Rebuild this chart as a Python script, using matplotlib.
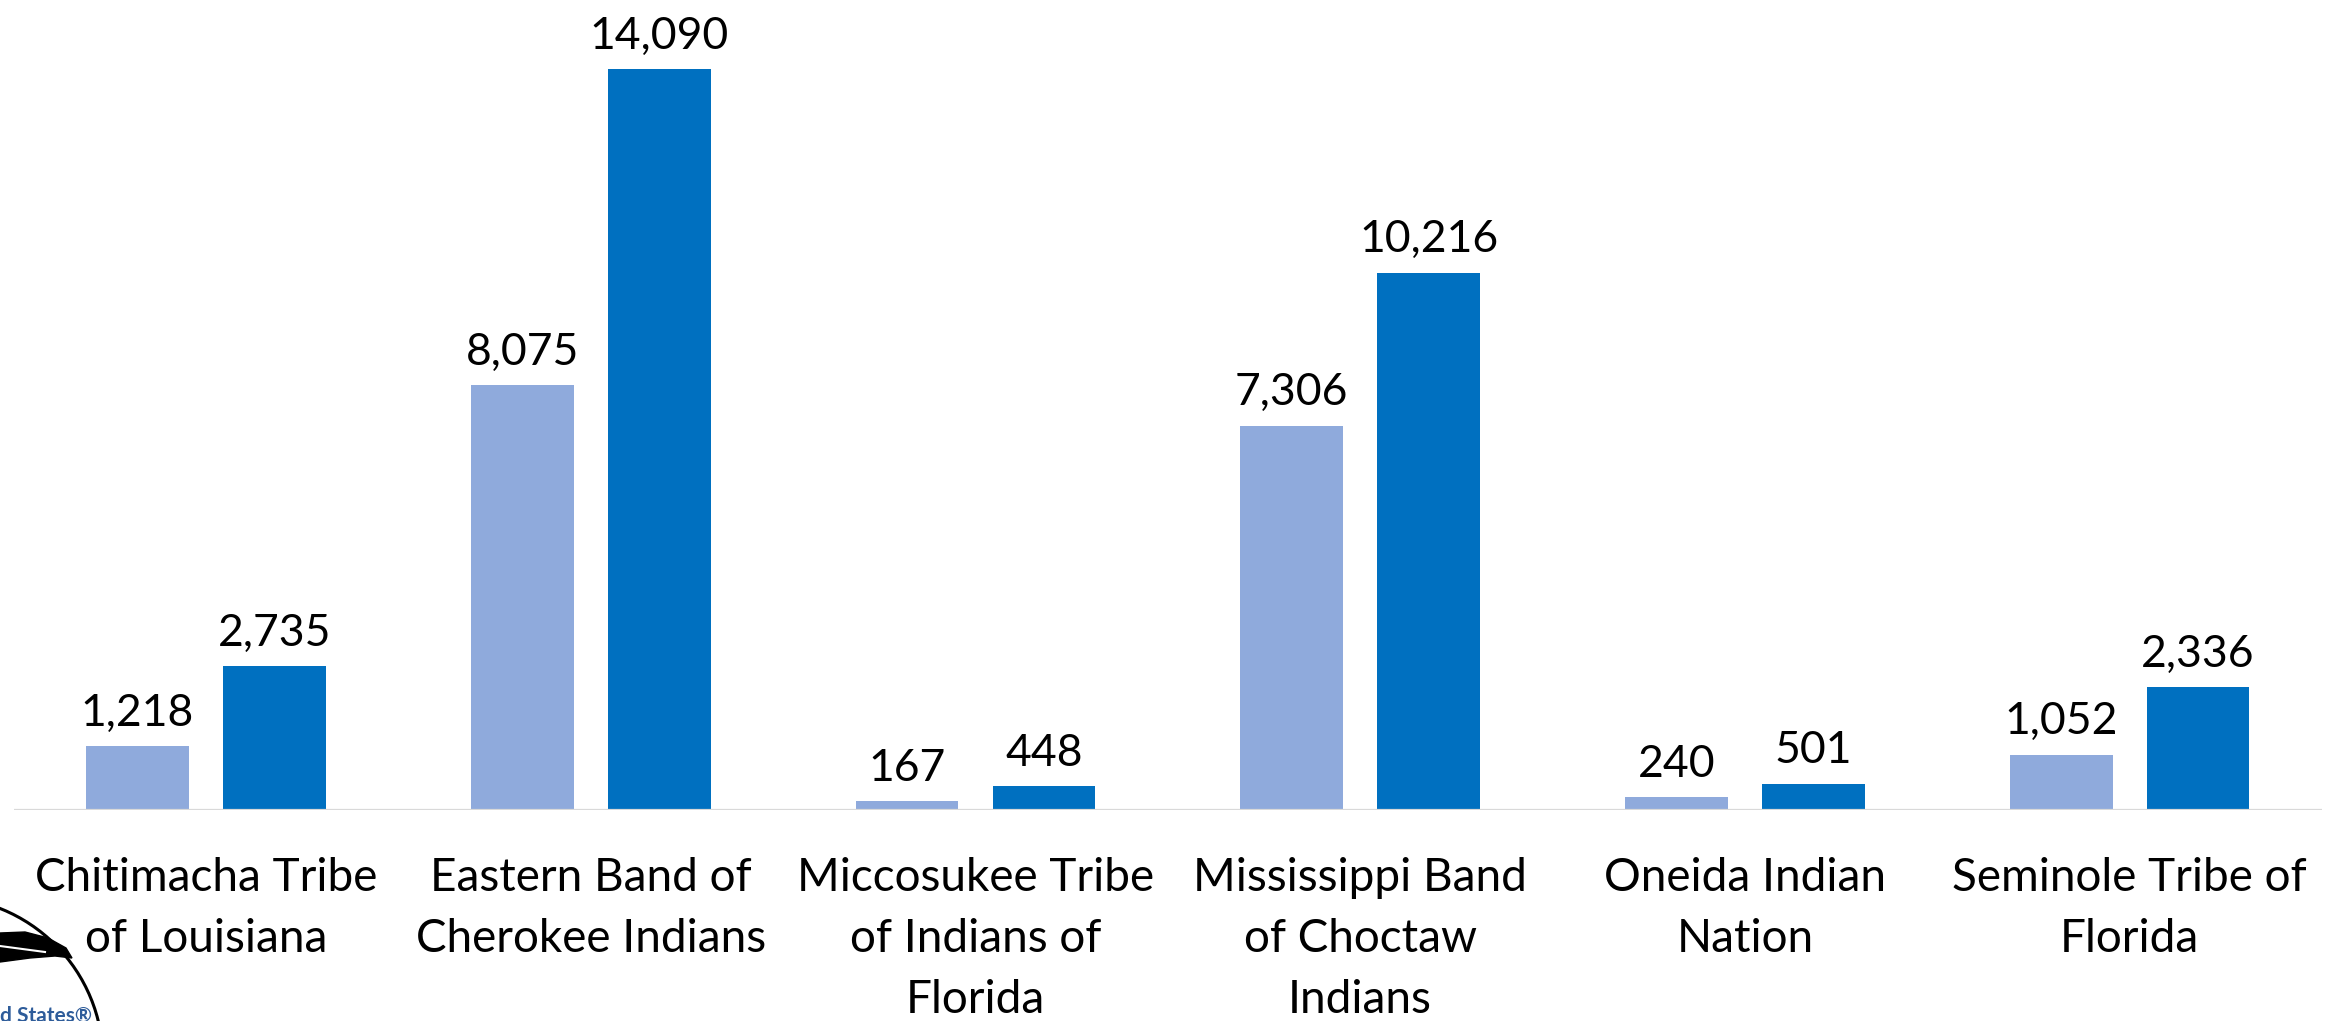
import numpy as np
import matplotlib.pyplot as plt
from matplotlib.patches import Circle, Polygon

plt.rcParams['font.family'] = ['Lato', 'DejaVu Sans']

# data
tribes = ['Chitimacha Tribe\nof Louisiana', 'Eastern Band of\nCherokee Indians',
          'Miccosukee Tribe\nof Indians of\nFlorida', 'Mississippi Band\nof Choctaw\nIndians',
          'Oneida Indian\nNation', 'Seminole Tribe of\nFlorida']
direct = [1218, 8075, 167, 7306, 240, 1052]
total = [2735, 14090, 448, 10216, 501, 2336]

light = '#8FAADC'
dark = '#0070C0'

W, H = 2338, 1021
fig = plt.figure(figsize=(W / 100, H / 100), dpi=100)
ax = fig.add_axes([13.6 / W, (H - 810) / H, (2322 - 13.6) / W, 810 / H])

x = np.arange(len(tribes))
bw = 0.267
off = 0.178
b1 = ax.bar(x - off, direct, bw, color=light, zorder=2)
b2 = ax.bar(x + off, total, bw, color=dark, zorder=2)

for bars, vals in [(b1, direct), (b2, total)]:
    for r, v in zip(bars, vals):
        ax.annotate(f'{v:,}', (r.get_x() + r.get_width() / 2, v),
                    xytext=(0, 9), textcoords='offset points',
                    ha='center', va='bottom', fontsize=32, color='black')

ax.axhline(0, color='#D9D9D9', lw=1.6, zorder=3)
ax.set_xlim(-0.5, len(tribes) - 0.5)
ax.set_ylim(0, 15402)
ax.set_yticks([])
ax.set_xticks(x)
ax.set_xticklabels(tribes, fontsize=33, linespacing=1.55)
ax.tick_params(axis='x', length=0, pad=34)
for s in ax.spines.values():
    s.set_visible(False)

# partial logo cut off in the lower left corner
deco = fig.add_axes([0, 0, 1, 1], zorder=5)
deco.set_xlim(0, W)
deco.set_ylim(H, 0)
deco.axis('off')
deco.patch.set_alpha(0)
deco.add_patch(Circle((-60, 1060), 163, fill=False, ec='black', lw=2.2))
deco.add_patch(Polygon([(0, 933), (25, 932), (48, 938), (66, 948), (72, 958),
                        (55, 956), (30, 958), (0, 962)], closed=True,
                       fc='black', ec='black'))
deco.plot([0, 45], [946, 952], color='white', lw=1.5)
deco.text(0, 1022, 'd States\u00ae', color='#2E5C9A', fontsize=15,
          fontweight='bold', ha='left', va='baseline')

fig.savefig('out.png', dpi=100)
